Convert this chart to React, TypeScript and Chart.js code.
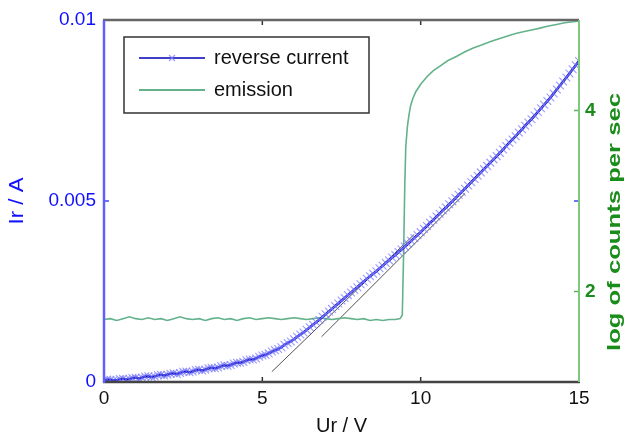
import React, { useEffect, useRef } from "react";
import { Chart, registerables } from "chart.js";

Chart.register(...registerables);

// ---------- data ----------
const voltage = [
  0, 0.1, 0.2, 0.3, 0.4, 0.5, 0.6, 0.7, 0.8, 0.9, 1.0, 1.1, 1.2, 1.3, 1.4, 1.5, 1.6, 1.7, 1.8, 1.9,
  2.0, 2.1, 2.2, 2.3, 2.4, 2.5, 2.6, 2.7, 2.8, 2.9, 3.0, 3.1, 3.2, 3.3, 3.4, 3.5, 3.6, 3.7, 3.8, 3.9,
  4.0, 4.1, 4.2, 4.3, 4.4, 4.5, 4.6, 4.7, 4.8, 4.9, 5.0, 5.1, 5.2, 5.3, 5.4, 5.5, 5.6, 5.7, 5.8, 5.9,
  6.0, 6.1, 6.2, 6.3, 6.4, 6.5, 6.6, 6.7, 6.8, 6.9, 7.0, 7.1, 7.2, 7.3, 7.4, 7.5, 7.6, 7.7, 7.8, 7.9,
  8.0, 8.1, 8.2, 8.3, 8.4, 8.5, 8.6, 8.7, 8.8, 8.9, 9.0, 9.1, 9.2, 9.3, 9.4, 9.5, 9.6, 9.7, 9.8, 9.9,
  10.0, 10.1, 10.2, 10.3, 10.4, 10.5, 10.6, 10.7, 10.8, 10.9, 11.0, 11.1, 11.2, 11.3, 11.4, 11.5, 11.6, 11.7, 11.8, 11.9,
  12.0, 12.1, 12.2, 12.3, 12.4, 12.5, 12.6, 12.7, 12.8, 12.9, 13.0, 13.1, 13.2, 13.3, 13.4, 13.5, 13.6, 13.7, 13.8, 13.9,
  14.0, 14.1, 14.2, 14.3, 14.4, 14.5, 14.6, 14.7, 14.8, 14.9, 15.0,
];
const reverseCurrent = [
  0.00004, 0.00007, 0.00006, 0.00005, 0.00005, 0.00008, 0.00009, 0.00007, 0.00008, 0.00011,
  0.00012, 0.0001, 0.00012, 0.00015, 0.00016, 0.00014, 0.00015, 0.00019, 0.0002, 0.00018,
  0.0002, 0.00023, 0.00024, 0.00022, 0.00025, 0.00028, 0.00029, 0.00027, 0.00029, 0.00033,
  0.00034, 0.00032, 0.00034, 0.00038, 0.00039, 0.00038, 0.0004, 0.00044, 0.00046, 0.00045,
  0.00047, 0.00051, 0.00053, 0.00053, 0.00055, 0.0006, 0.00062, 0.00062, 0.00065, 0.0007,
  0.00073, 0.00075, 0.00079, 0.00084, 0.00088, 0.00091, 0.00096, 0.00103, 0.00108, 0.00112,
  0.00118, 0.00125, 0.00131, 0.00137, 0.00144, 0.00151, 0.00158, 0.00165, 0.00172, 0.0018,
  0.00187, 0.00195, 0.00202, 0.0021, 0.00217, 0.00225, 0.00232, 0.0024, 0.00247, 0.00255,
  0.00262, 0.0027, 0.00277, 0.00285, 0.00292, 0.00299, 0.00306, 0.00314, 0.00321, 0.00329,
  0.00336, 0.00344, 0.00351, 0.00359, 0.00366, 0.00374, 0.00382, 0.0039, 0.00398, 0.00406,
  0.00414, 0.00423, 0.00431, 0.0044, 0.00448, 0.00457, 0.00465, 0.00474, 0.00482, 0.00491,
  0.00499, 0.00508, 0.00517, 0.00525, 0.00534, 0.00543, 0.00552, 0.00561, 0.0057, 0.00579,
  0.00588, 0.00597, 0.00606, 0.00615, 0.00624, 0.00633, 0.00642, 0.00652, 0.00661, 0.0067,
  0.00679, 0.00689, 0.00698, 0.00708, 0.00717, 0.00726, 0.00736, 0.00746, 0.00756, 0.00766,
  0.00776, 0.00786, 0.00797, 0.00808, 0.00819, 0.0083, 0.00841, 0.00852, 0.00864, 0.00875, 0.00887,
];

const emissionVoltage = [
  0, 0.2, 0.4, 0.6, 0.8, 1.0, 1.2, 1.4, 1.6, 1.8, 2.0, 2.2, 2.4, 2.6, 2.8, 3.0, 3.2, 3.4, 3.6, 3.8,
  4.0, 4.2, 4.4, 4.6, 4.8, 5.0, 5.2, 5.4, 5.6, 5.8, 6.0, 6.2, 6.4, 6.6, 6.8, 7.0, 7.2, 7.4, 7.6, 7.8,
  8.0, 8.2, 8.4, 8.6, 8.8, 9.0, 9.2, 9.35, 9.42, 9.46, 9.5, 9.53, 9.58, 9.63, 9.68, 9.75, 9.85, 10.0, 10.19,
  10.4, 10.61, 10.85, 11.14, 11.4, 11.66, 11.9, 12.19, 12.45, 12.72, 13.0, 13.24, 13.5, 13.77, 14.0,
  14.29, 14.55, 14.81, 15.0,
];
const emissionLog = [
  1.69, 1.7, 1.68, 1.7, 1.72, 1.7, 1.69, 1.71, 1.69, 1.7, 1.68, 1.7, 1.72, 1.7, 1.69, 1.7, 1.68, 1.7, 1.71, 1.69,
  1.7, 1.68, 1.7, 1.71, 1.69, 1.7, 1.71, 1.7, 1.69, 1.7, 1.71, 1.7, 1.69, 1.7, 1.71, 1.7, 1.69, 1.7, 1.71, 1.7,
  1.69, 1.7, 1.68, 1.69, 1.68, 1.69, 1.69, 1.7, 1.74, 2.4, 3.2, 3.6, 3.82, 3.95, 4.05, 4.13, 4.21, 4.29, 4.37,
  4.44, 4.49, 4.55, 4.6, 4.65, 4.69, 4.72, 4.76, 4.79, 4.82, 4.85, 4.87, 4.89, 4.91, 4.93,
  4.95, 4.97, 4.98, 4.99,
];

// two fitted straight lines (end points)
const fitAVoltage = [5.3, 9.8];
const fitACurrent = [0.000285, 0.00408];
const fitBVoltage = [6.87, 11.4];
const fitBCurrent = [0.00125, 0.00521];

const xTicks = [0, 5, 10, 15];
const xTickLabels = ["0", "5", "10", "15"];
const yTicks = [0, 0.005, 0.01];
const yTickLabels = ["0", "0.005", "0.01"];
const y2Ticks = [2, 4];
const y2TickLabels = ["2", "4"];

const seriesNames = ["reverse current", "emission"];
const xTitle = "Ur / V";
const yTitle = "Ir / A";
const y2Title = "log of counts per sec";

// ---------- styles ----------
const FONT = "'Liberation Sans', Arial, sans-serif";
const BLUE_TEXT = "#1010ff";
const GREEN_TEXT = "#1a8c1a";
const CURRENT_LINE = "#0000b4";
const CURRENT_MARK = "rgba(120,120,255,0.75)";
const EMISSION_LINE = "rgb(100,178,140)";
const FIT_LINE = "#505050";

const toXY = (xs: number[], ys: number[]) => xs.map((x, i) => ({ x, y: ys[i] }));

function drawRotated(ctx: CanvasRenderingContext2D, text: string, cx: number, cy: number, font: string, color: string, targetLen?: number) {
  ctx.save();
  ctx.translate(cx, cy);
  ctx.rotate(-Math.PI / 2);
  ctx.font = font;
  ctx.fillStyle = color;
  ctx.textAlign = "center";
  ctx.textBaseline = "middle";
  if (targetLen) {
    const w = ctx.measureText(text).width;
    ctx.scale(targetLen / w, 1);
  }
  ctx.fillText(text, 0, 0);
  ctx.restore();
}

function seg(ctx: CanvasRenderingContext2D, x1: number, y1: number, x2: number, y2: number, color: string, w: number) {
  ctx.beginPath();
  ctx.moveTo(x1, y1);
  ctx.lineTo(x2, y2);
  ctx.strokeStyle = color;
  ctx.lineWidth = w;
  ctx.stroke();
}

const framePlugin = {
  id: "matlabFrame",
  afterDatasetsDraw(chart: any) {
    const { ctx, chartArea: a, scales } = chart;
    const sx = scales.x, sy = scales.y, sy2 = scales.y2;
    ctx.save();
    const T = 5;
    xTicks.forEach((v) => {
      const px = sx.getPixelForValue(v);
      if (px <= a.left + 1 || px >= a.right - 1) return;
      seg(ctx, px, a.bottom, px, a.bottom - T, "#333", 1.5);
      seg(ctx, px, a.top, px, a.top + T, "#333", 1.5);
    });
    yTicks.forEach((v) => {
      const py = sy.getPixelForValue(v);
      if (py <= a.top + 1 || py >= a.bottom - 1) return;
      seg(ctx, a.left, py, a.left + T, py, "#4040ff", 1.5);
      seg(ctx, a.right, py, a.right - T, py, "#4040ff", 1.5);
    });
    y2Ticks.forEach((v) => {
      const py = sy2.getPixelForValue(v);
      seg(ctx, a.right, py, a.right - T, py, "#60b060", 1.5);
    });
    seg(ctx, a.left - 1, a.top, a.right, a.top, "#666", 2.5);
    seg(ctx, a.left - 1, a.bottom, a.right + 1, a.bottom, "#444", 2.5);
    seg(ctx, a.right, a.top, a.right, a.bottom, "#7cc87c", 2);
    seg(ctx, a.left, a.top, a.left, a.bottom + 1, "#6060ff", 2.5);

    // legend
    const lx = 124, ly = 37, lw = 245, lh = 76;
    ctx.fillStyle = "#fff";
    ctx.fillRect(lx, ly, lw, lh);
    ctx.strokeStyle = "#333";
    ctx.lineWidth = 1.5;
    ctx.strokeRect(lx, ly, lw, lh);
    const rows = [58, 90];
    seg(ctx, 139, rows[0], 205, rows[0], CURRENT_LINE, 1.5);
    const mx = 172, my = rows[0], r = 3;
    seg(ctx, mx - r, my - r, mx + r, my + r, CURRENT_MARK, 1.2);
    seg(ctx, mx - r, my + r, mx + r, my - r, CURRENT_MARK, 1.2);
    seg(ctx, 139, rows[1], 205, rows[1], EMISSION_LINE, 2);
    ctx.fillStyle = "#111";
    ctx.font = `20px ${FONT}`;
    ctx.textAlign = "left";
    ctx.textBaseline = "middle";
    ctx.fillText(seriesNames[0], 214, rows[0]);
    ctx.fillText(seriesNames[1], 214, rows[1]);

    // axis titles
    ctx.font = `20px ${FONT}`;
    ctx.fillStyle = "#111";
    ctx.textAlign = "center";
    ctx.fillText(xTitle, (a.left + a.right) / 2, 426);
    drawRotated(ctx, yTitle, 17, (a.top + a.bottom) / 2, `20px ${FONT}`, BLUE_TEXT, 47);
    drawRotated(ctx, y2Title, 615, 222, `bold 18px ${FONT}`, GREEN_TEXT, 258);
    ctx.restore();
  },
};

export default function App() {
  const ref = useRef<HTMLCanvasElement | null>(null);
  useEffect(() => {
    if (!ref.current) return;
    const chart = new Chart(ref.current, {
      type: "line",
      data: {
        datasets: [
          {
            label: seriesNames[0],
            data: toXY(voltage, reverseCurrent),
            yAxisID: "y",
            borderColor: CURRENT_LINE,
            borderWidth: 2.5,
            pointStyle: "crossRot",
            pointRadius: 5.5,
            pointBorderColor: CURRENT_MARK,
            pointBorderWidth: 1.1,
            pointBackgroundColor: CURRENT_MARK,
            tension: 0,
            order: 0,
          },
          {
            label: seriesNames[1],
            data: toXY(emissionVoltage, emissionLog),
            yAxisID: "y2",
            borderColor: EMISSION_LINE,
            borderWidth: 1.6,
            pointRadius: 0,
            tension: 0,
            order: 1,
          },
          {
            label: "fit A",
            data: toXY(fitAVoltage, fitACurrent),
            yAxisID: "y",
            borderColor: FIT_LINE,
            borderWidth: 1,
            pointRadius: 0,
            order: 2,
          },
          {
            label: "fit B",
            data: toXY(fitBVoltage, fitBCurrent),
            yAxisID: "y",
            borderColor: FIT_LINE,
            borderWidth: 1,
            pointRadius: 0,
            order: 2,
          },
        ],
      },
      options: {
        responsive: false,
        animation: false,
        layout: { padding: { top: 20, left: 0, right: 0, bottom: 0 } },
        plugins: { legend: { display: false }, tooltip: { enabled: false } },
        scales: {
          x: {
            type: "linear",
            min: 0,
            max: 15,
            afterBuildTicks: (s: any) => {
              s.ticks = xTicks.map((v) => ({ value: v }));
            },
            afterFit: (s: any) => {
              s.height = 57;
            },
            ticks: {
              color: "#111",
              font: { family: FONT, size: 19 },
              padding: 5,
              maxRotation: 0,
              autoSkip: false,
              callback: (_v: any, i: number) => xTickLabels[i],
            },
            grid: { display: false, drawTicks: false },
            border: { display: false },
          },
          y: {
            type: "linear",
            position: "left",
            min: 0,
            max: 0.01,
            afterBuildTicks: (s: any) => {
              s.ticks = yTicks.map((v) => ({ value: v }));
            },
            afterFit: (s: any) => {
              s.width = 104;
            },
            ticks: {
              color: BLUE_TEXT,
              font: { family: FONT, size: 19 },
              padding: 8,
              autoSkip: false,
              callback: (_v: any, i: number) => yTickLabels[i],
            },
            grid: { display: false, drawTicks: false },
            border: { display: false },
          },
          y2: {
            type: "linear",
            position: "right",
            min: 1,
            max: 5,
            afterBuildTicks: (s: any) => {
              s.ticks = y2Ticks.map((v) => ({ value: v }));
            },
            afterFit: (s: any) => {
              s.width = 46;
            },
            ticks: {
              color: GREEN_TEXT,
              font: { family: FONT, size: 19, weight: "bold" },
              padding: 6,
              autoSkip: false,
              callback: (_v: any, i: number) => y2TickLabels[i],
            },
            grid: { display: false, drawTicks: false },
            border: { display: false },
          },
        },
      },
      plugins: [framePlugin],
    } as any);
    return () => chart.destroy();
  }, []);

  return (
    <div style={{ position: "fixed", left: 0, top: 0, width: 625, height: 439, background: "#fff" }}>
      <canvas ref={ref} width={625} height={439} />
    </div>
  );
}
